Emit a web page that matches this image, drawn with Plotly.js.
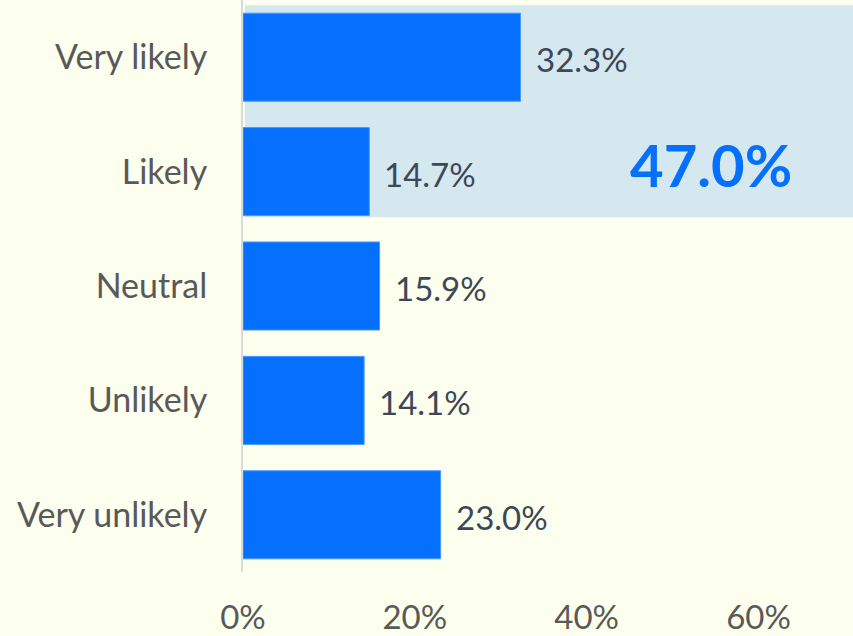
<!DOCTYPE html>
<html><head><meta charset="utf-8">
<script src="https://cdn.plot.ly/plotly-3.0.1.min.js"></script>
<style>html,body{margin:0;padding:0;background:#fcfeee;}#chart{width:853px;height:636px;}</style>
</head><body><div id="chart"></div>
<script>
const categories = ["Very likely", "Likely", "Neutral", "Unlikely", "Very unlikely"];
const values = [32.3, 14.7, 15.9, 14.1, 23.0];
const tickVals = [0, 20, 40, 60];
const tickText = ["0%", "20%", "40%", "60%"];
const highlightTotal = values[0] + values[1];

const FONT = "Lato, 'Open Sans', sans-serif";

const trace = {
  type: "bar",
  orientation: "h",
  y: categories,
  x: values,
  width: 0.77,
  marker: {color: "#0670fe", line: {color: "#4d98ff", width: 1}},
  hoverinfo: "none"
};

const labelAnns = values.map((v, i) => ({
  x: v, y: categories[i], xref: "x", yref: "y",
  text: v.toFixed(1) + "%", showarrow: false,
  xanchor: "left", xshift: 13, yshift: -2,
  font: {family: FONT, size: 33, color: "#3d4757"}
}));

const layout = {
  width: 853, height: 636,
  margin: {l: 243, r: 0, t: 0, b: 64},
  paper_bgcolor: "#fcfeee",
  plot_bgcolor: "#fcfeee",
  showlegend: false,
  xaxis: {
    range: [0, 71], tickvals: tickVals, ticktext: tickText,
    showgrid: false, zeroline: false, showline: false,
    ticks: "outside", ticklen: 16, tickcolor: "rgba(0,0,0,0)",
    tickfont: {family: FONT, size: 33, color: "#595959"}
  },
  yaxis: {
    type: "category", categoryorder: "array", categoryarray: categories,
    autorange: "reversed",
    showgrid: false, zeroline: false,
    showline: true, linecolor: "#d9d9d9", linewidth: 2,
    ticks: "outside", ticklen: 27, tickcolor: "rgba(0,0,0,0)",
    tickfont: {family: FONT, size: 34, color: "#595959"}
  },
  shapes: [{
    type: "rect", layer: "below", xref: "paper", yref: "y",
    x0: 0.003, x1: 1, y0: -0.455, y1: 1.4,
    fillcolor: "#d5e8f0", line: {width: 0}
  }],
  annotations: labelAnns.concat([{
    x: 54.5, y: 0.94, xref: "x", yref: "y",
    text: "<b>" + highlightTotal.toFixed(1) + "%</b>", showarrow: false,
    font: {family: FONT, size: 58, color: "#0670fe"}
  }])
};

Plotly.newPlot("chart", [trace], layout, {displayModeBar: false, staticPlot: true});
</script></body></html>
